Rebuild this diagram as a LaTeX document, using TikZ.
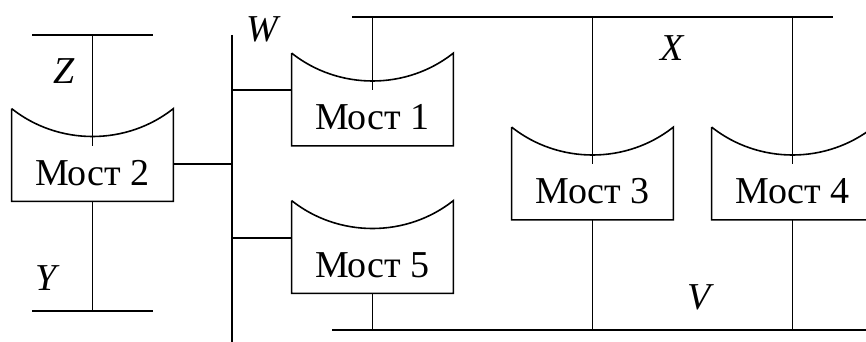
\documentclass[tikz,border=0pt]{standalone}
\usepackage{fontspec}
\setmainfont{Liberation Serif}
\usetikzlibrary{calc}

\tikzset{
  bridge/.style={rectangle, minimum width=80.5pt, minimum height=46pt, inner sep=0pt,
    text height=30pt, text depth=0pt, font=\fontsize{19}{22}\selectfont},
  outline/.style={line width=0.8pt},
  bus/.style={line width=1pt},
  tap/.style={line width=0.75pt},
  netlabel/.style={inner sep=0pt, font=\fontsize{19}{22}\selectfont\itshape}
}

\begin{document}
\begin{tikzpicture}[x=0.5pt, y=-0.5pt]
    \useasboundingbox (0,0) rectangle (866,342);
    \clip (0,0) rectangle (866,342);

    % Bridges
    \node[bridge] (b2) at (92.5,155)   {Мост 2};
    \node[bridge] (b1) at (372.5,99.5) {Мост 1};
    \node[bridge] (b5) at (372.5,247)  {Мост 5};
    \node[bridge] (b3) at (592.5,173.5) {Мост 3};
    \node[bridge] (b4) at (792.5,173.5) {Мост 4};

    % Bridge outlines (concave top)
    \foreach \br in {b1,b2,b3,b4,b5}
        \draw[outline] (\br.north west) -- (\br.south west) -- (\br.south east) -- (\br.north east)
            .. controls +(-23.5pt,-18.6pt) and +(23.5pt,-18.6pt) .. (\br.north west);

    % Segments
    \coordinate (Z1) at (32,35);   \coordinate (Z2) at (153,35);
    \coordinate (Y1) at (32,311);  \coordinate (Y2) at (153,311);
    \coordinate (W1) at (232,35);  \coordinate (W2) at (232,342);
    \coordinate (X1) at (352,17);  \coordinate (X2) at (833,17);
    \coordinate (V1) at (332,330); \coordinate (V2) at (870,330);
    \draw[bus] (Z1) -- (Z2);
    \draw[bus] (Y1) -- (Y2);
    \draw[bus] (W1) -- (W2);
    \draw[bus] (X1) -- (X2);
    \draw[bus] (V1) -- (V2);

    % Segment labels
    \node[netlabel] (lz) at (64,71)   {Z};
    \node[netlabel] (ly) at (46,278)  {Y};
    \node[netlabel] (lw) at (262,29)  {W};
    \node[netlabel] (lx) at (672,48)  {X};
    \node[netlabel] (lv) at (699,297) {V};

    % Ports of bridge 2
    \draw[tap] (b2.north |- Z1) -- ([yshift=-18.5pt]b2.north);
    \draw[tap] (b2.south) -- (b2.south |- Y1);
    \draw[tap] ([yshift=-4.5pt]b2.east) coordinate (t2) -- (t2 -| W1);

    % Ports on W
    \draw[tap] ([yshift=4.75pt]b1.west) coordinate (t1) -- (t1 -| W1);
    \draw[tap] ([yshift=4.5pt]b5.west) coordinate (t5) -- (t5 -| W1);

    % Ports on X
    \foreach \br in {b1,b3,b4}
        \draw[tap] (\br.north |- X1) -- ([yshift=-18.5pt]\br.north);

    % Ports on V
    \foreach \br in {b5,b3,b4}
        \draw[tap] (\br.south) -- (\br.south |- V1);
\end{tikzpicture}
\end{document}
